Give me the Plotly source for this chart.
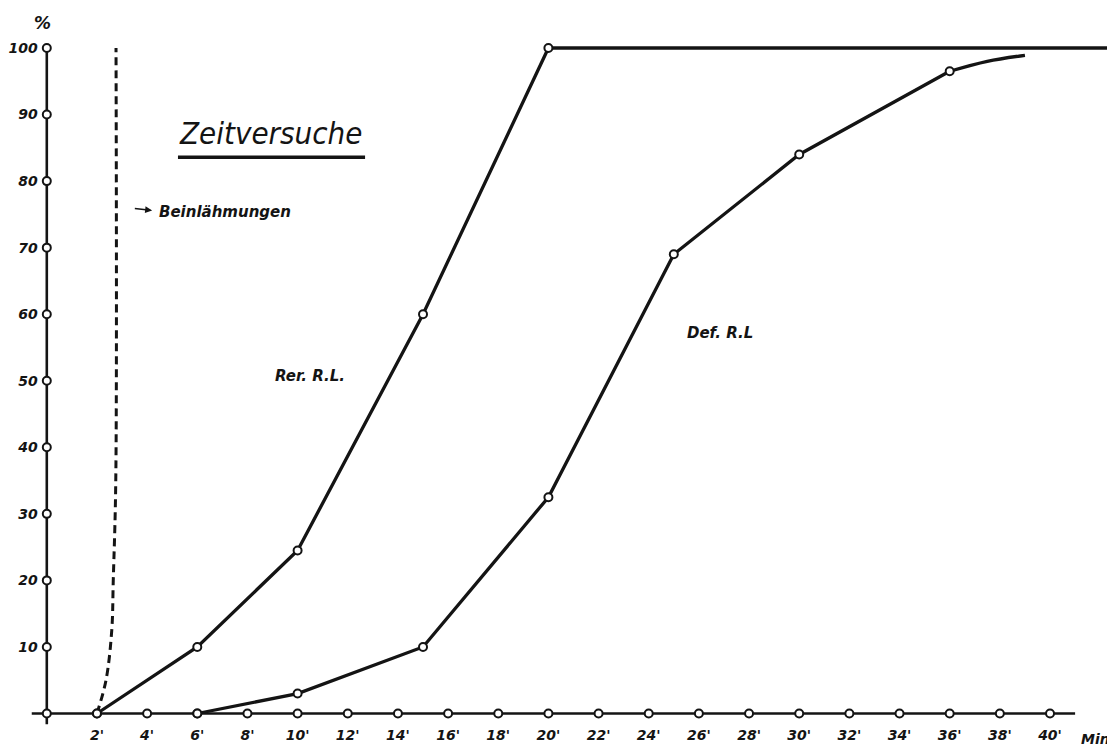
import plotly.graph_objects as go

# ---------------- data ----------------
x_ticks = [2, 4, 6, 8, 10, 12, 14, 16, 18, 20, 22, 24, 26, 28, 30, 32, 34, 36, 38, 40]
x_tick_labels = [f"{v}'" for v in x_ticks]
y_ticks = [10, 20, 30, 40, 50, 60, 70, 80, 90, 100]
y_tick_labels = [str(v) for v in y_ticks]

rer_min = [2, 6, 10, 15, 20]
rer_pct = [0, 10, 24.5, 60, 100]
rer_plateau_min = [20, 43]
rer_plateau_pct = [100, 100]

def_min = [6, 10, 15, 20, 25, 30, 36]
def_pct = [0, 3, 10, 32.5, 69, 84, 96.5]
def_tail_min = [36, 37.5, 39]
def_tail_pct = [96.5, 98, 98.9]

lahm_min = [2.0, 2.36, 2.59, 2.65, 2.75, 2.76]
lahm_pct = [0, 5, 12.5, 20, 35, 100]

x_axis_ext = [-0.6, 41.0]
y_axis_ext = [-1.6, 100]

INK = "#141414"
HAND = "DejaVu Sans"

fig = go.Figure()

# axes drawn as lines with open-circle tick marks
fig.add_trace(go.Scatter(x=x_axis_ext, y=[0, 0], mode="lines",
                         line=dict(color=INK, width=2.6), hoverinfo="skip"))
fig.add_trace(go.Scatter(x=[0, 0], y=y_axis_ext, mode="lines",
                         line=dict(color=INK, width=2.6), hoverinfo="skip"))

# Beinlähmungen dashed curve
fig.add_trace(go.Scatter(x=lahm_min, y=lahm_pct, mode="lines",
                         line=dict(color=INK, width=3, dash="8px,5px", shape="spline"),
                         hoverinfo="skip"))

# Rer. R.L.
fig.add_trace(go.Scatter(x=rer_min, y=rer_pct, mode="lines",
                         line=dict(color=INK, width=3.3), hoverinfo="skip"))
fig.add_trace(go.Scatter(x=rer_plateau_min, y=rer_plateau_pct, mode="lines",
                         line=dict(color=INK, width=3.3), hoverinfo="skip"))
# Def. R.L.
fig.add_trace(go.Scatter(x=def_min, y=def_pct, mode="lines",
                         line=dict(color=INK, width=3.3), hoverinfo="skip"))
fig.add_trace(go.Scatter(x=def_tail_min, y=def_tail_pct, mode="lines",
                         line=dict(color=INK, width=3.3, shape="spline"), hoverinfo="skip"))

circle = dict(symbol="circle", size=8, color="white", line=dict(color=INK, width=2))

# tick circles
fig.add_trace(go.Scatter(x=x_ticks, y=[0] * len(x_ticks), mode="markers",
                         marker=circle, cliponaxis=False, hoverinfo="skip"))
fig.add_trace(go.Scatter(x=[0] * (len(y_ticks) + 1), y=[0] + y_ticks, mode="markers",
                         marker=circle, cliponaxis=False, hoverinfo="skip"))
# data point circles
fig.add_trace(go.Scatter(x=rer_min, y=rer_pct, mode="markers",
                         marker=circle, cliponaxis=False, hoverinfo="skip"))
fig.add_trace(go.Scatter(x=def_min, y=def_pct, mode="markers",
                         marker=circle, cliponaxis=False, hoverinfo="skip"))

tickfont = dict(family=HAND, size=14, color=INK, style="italic", weight="bold")

# page body has an 8px margin: the axis ranges compensate for it
fig.update_layout(
    width=1115, height=748,
    margin=dict(l=0, r=0, t=0, b=0, autoexpand=False),
    paper_bgcolor="white", plot_bgcolor="white",
    showlegend=False,
    xaxis=dict(range=[-1.547, 42.91], showgrid=False, zeroline=False, showline=False,
               tickvals=x_ticks, ticktext=x_tick_labels, ticks="", automargin=False,
               anchor="free", position=0.0568, tickfont=dict(tickfont, size=14),
               ticklabelstandoff=11),
    yaxis=dict(range=[-6.386, 106.01], showgrid=False, zeroline=False, showline=False,
               tickvals=y_ticks, ticktext=y_tick_labels, ticks="", automargin=False,
               anchor="free", position=0.0348, tickfont=tickfont,
               ticklabelstandoff=9),
)

textfont = dict(family=HAND, size=15, color=INK, style="italic", weight="bold")

annotations = [
    dict(x=-0.19, y=103.8, text="%", showarrow=False,
         font=dict(family=HAND, size=17, color=INK, style="italic", weight="bold")),
    dict(x=8.9, y=87.3, text="Zeitversuche", showarrow=False,
         font=dict(family="DejaVu Sans Condensed, Liberation Sans Narrow, DejaVu Sans",
                   size=31, color=INK, style="italic")),
    dict(x=4.39, y=75.4, text="Beinlähmungen", showarrow=False, xanchor="left",
         font=dict(textfont, size=15)),
    dict(x=4.2, y=75.6, ax=3.45, ay=75.9, axref="x", ayref="y", text="",
         showarrow=True, arrowhead=2, arrowsize=1, arrowwidth=1.4, arrowcolor=INK),
    dict(x=10.49, y=50.7, text="Rer. R.L.", showarrow=False, font=textfont),
    dict(x=26.84, y=57.2, text="Def. R.L", showarrow=False, font=textfont),
    dict(x=41.8, y=-3.8, text="Min", showarrow=False,
         font=dict(textfont, size=14)),
]
for a in annotations:
    a.setdefault("xref", "x")
    a.setdefault("yref", "y")
fig.update_layout(annotations=annotations)

# underline beneath title
fig.add_shape(type="line", xref="x", yref="y", x0=5.23, x1=12.69, y0=83.6, y1=83.6,
              line=dict(color=INK, width=3.5))

fig.write_html("out.html")
